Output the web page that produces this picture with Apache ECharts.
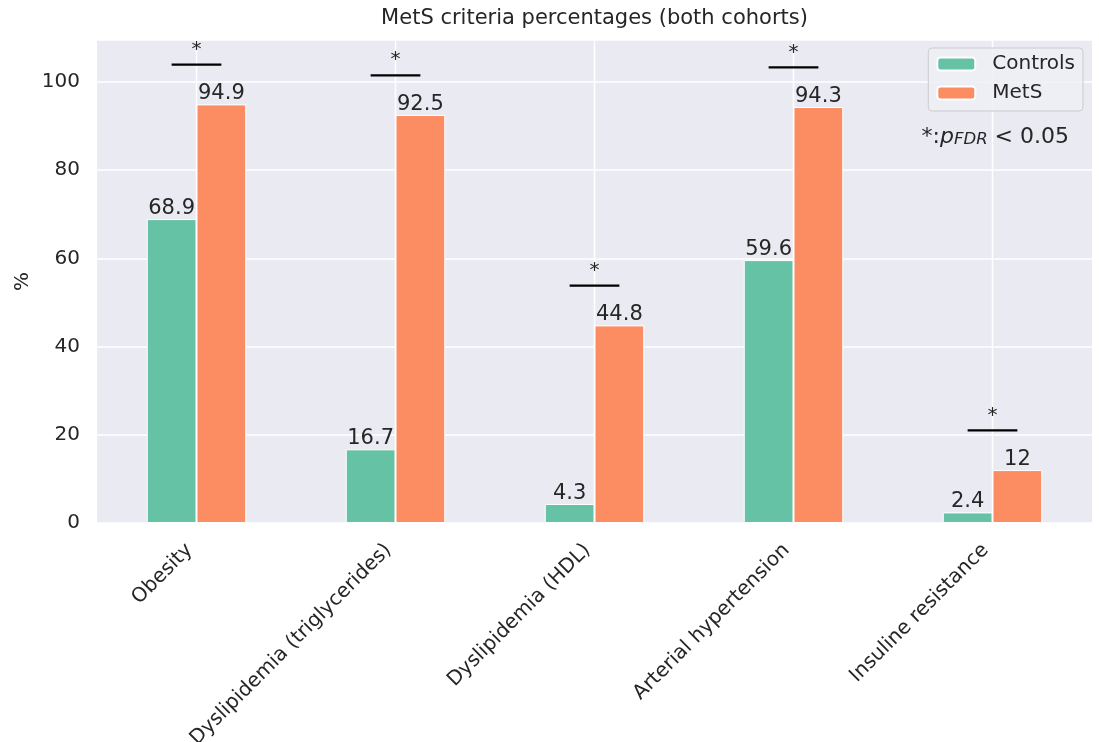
<!DOCTYPE html>
<html>
<head>
<meta charset="utf-8">
<script src="https://cdn.jsdelivr.net/npm/echarts@6/dist/echarts.min.js"></script>
<style>
  html, body { margin: 0; padding: 0; background: #ffffff; }
  #chart { width: 1099px; height: 742px; }
</style>
</head>
<body>
<div id="chart"></div>
<script>
// MetS criteria percentages for both cohorts
const categories = ['Obesity', 'Dyslipidemia (triglycerides)', 'Dyslipidemia (HDL)', 'Arterial hypertension', 'Insuline resistance'];
const controls = [68.9, 16.7, 4.3, 59.6, 2.4];
const mets = [94.9, 92.5, 44.8, 94.3, 12];
const yTicks = [0, 20, 40, 60, 80, 100];
// significance brackets: [category index, bracket height]
const significance = [[0, 103.9], [1, 101.5], [2, 53.8], [3, 103.3], [4, 21.0]];

const FONT = 'DejaVu Sans';
const INK = '#262626';

const GRID_LEFT = 97, GRID_RIGHT = 7;
const W = 1099;

const chart = echarts.init(document.getElementById('chart'), null, { renderer: 'canvas' });

const barLabel = {
  show: true,
  position: 'top',
  distance: 0,
  color: INK,
  fontFamily: FONT,
  fontSize: 21
};

chart.setOption({
  animation: false,
  backgroundColor: '#ffffff',
  textStyle: { fontFamily: FONT, color: INK },
  grid: {
    left: GRID_LEFT, right: GRID_RIGHT, top: 40, bottom: 219,
    outerBoundsMode: 'none',
    containLabel: false,
    show: true, backgroundColor: '#eaeaf2', borderWidth: 0
  },
  legend: {
    right: 16, top: 48,
    orient: 'vertical',
    itemWidth: 38, itemHeight: 13, itemGap: 9,
    padding: [6, 8, 8, 8],
    backgroundColor: 'rgba(238,238,245,0.9)',
    borderColor: '#cccccc', borderWidth: 1, borderRadius: 4,
    textStyle: { fontFamily: FONT, fontSize: 20, color: INK, padding: [0, 0, 0, 12] },
    data: ['Controls', 'MetS']
  },
  xAxis: {
    type: 'category',
    data: categories,
    axisLine: { show: false },
    axisTick: { show: false },
    splitLine: { show: false },
    axisLabel: {
      rotate: 45, margin: 17, interval: 0,
      padding: [0, 10, 0, 0],
      fontFamily: FONT, fontSize: 20, color: INK
    }
  },
  yAxis: {
    type: 'value',
    min: 0, max: 109.5, interval: 20,
    name: '%',
    nameLocation: 'middle',
    nameGap: 64,
    nameMoveOverlap: false,
    nameRotate: 90,
    nameTextStyle: { fontFamily: FONT, fontSize: 20, color: INK },
    axisLine: { show: false },
    axisTick: { show: false },
    splitLine: { lineStyle: { color: '#ffffff', width: 1.5 } },
    axisLabel: {
      showMaxLabel: false, margin: 17,
      fontFamily: FONT, fontSize: 20, color: INK,
      formatter: v => (yTicks.indexOf(v) >= 0 ? String(v) : '')
    }
  },
  series: [
    {
      // vertical grid lines at each category tick
      name: 'xgrid', type: 'custom', silent: true, z: 1,
      data: categories.map((c, i) => [i]),
      encode: { x: 0 },
      renderItem: function (params, api) {
        const x = api.coord([api.value(0), 0])[0];
        const cs = params.coordSys;
        return {
          type: 'line',
          shape: { x1: x, y1: cs.y, x2: x, y2: cs.y + cs.height },
          style: { stroke: '#ffffff', lineWidth: 1.5 }
        };
      }
    },
    {
      name: 'Controls', type: 'bar', data: controls,
      barWidth: '25%', barGap: '0%',
      itemStyle: { color: '#66c2a5', borderColor: '#ffffff', borderWidth: 1 },
      label: barLabel
    },
    {
      name: 'MetS', type: 'bar', data: mets,
      barWidth: '25%', barGap: '0%',
      itemStyle: { color: '#fc8d62', borderColor: '#ffffff', borderWidth: 1 },
      label: barLabel
    },
    {
      // bracket from the Controls bar centre to the MetS bar centre, with a star above
      name: 'significance', type: 'custom', data: significance,
      silent: true, z: 5,
      renderItem: function (params, api) {
        const p = api.coord([api.value(0), api.value(1)]);
        const band = api.size([1, 0])[0];
        const half = band * 0.125;
        return {
          type: 'group',
          children: [
            {
              type: 'line',
              shape: { x1: p[0] - half, y1: p[1], x2: p[0] + half, y2: p[1] },
              style: { stroke: '#000000', lineWidth: 2.2 }
            },
            {
              type: 'text',
              x: p[0], y: p[1] - 5,
              style: {
                text: '*', fill: INK, font: '20px "DejaVu Sans"',
                textAlign: 'center', textVerticalAlign: 'bottom'
              }
            }
          ]
        };
      }
    }
  ],
  graphic: [
    {
      // title, centred over the plotting area
      type: 'text',
      x: GRID_LEFT + (W - GRID_LEFT - GRID_RIGHT) / 2, y: 19,
      style: {
        text: 'MetS criteria percentages (both cohorts)',
        fill: INK, font: '21px "DejaVu Sans"',
        textAlign: 'center', textVerticalAlign: 'middle'
      }
    },
    {
      type: 'text',
      right: 30, top: 126,
      style: {
        text: '{n|*:}{i|p}{s|FDR}{n| < 0.05}',
        rich: {
          n: { fontFamily: FONT, fontSize: 22, fill: INK, verticalAlign: 'bottom', lineHeight: 26 },
          i: { fontFamily: FONT, fontSize: 22, fontStyle: 'italic', fill: INK, verticalAlign: 'bottom', lineHeight: 26 },
          s: { fontFamily: FONT, fontSize: 16.5, fontStyle: 'italic', fill: INK, verticalAlign: 'bottom', lineHeight: 21 }
        }
      }
    }
  ]
});
</script>
</body>
</html>
